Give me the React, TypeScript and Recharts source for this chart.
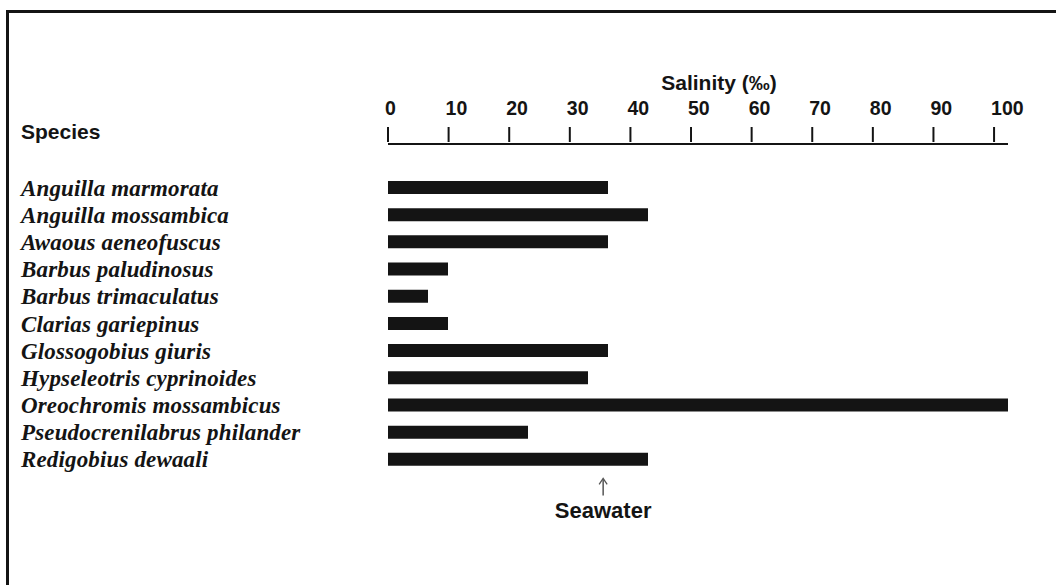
import React from "react";
import { BarChart, Bar, XAxis, YAxis, ReferenceDot } from "recharts";

const species = [
  "Anguilla marmorata",
  "Anguilla mossambica",
  "Awaous aeneofuscus",
  "Barbus paludinosus",
  "Barbus trimaculatus",
  "Clarias gariepinus",
  "Glossogobius giuris",
  "Hypseleotris cyprinoides",
  "Oreochromis mossambicus",
  "Pseudocrenilabrus philander",
  "Redigobius dewaali",
];

// upper salinity tolerance (‰)
const maxSalinity = [36.3, 42.9, 36.3, 9.9, 6.6, 9.9, 36.3, 33, 102.3, 23.1, 42.9];

const salinityTicks = [0, 10, 20, 30, 40, 50, 60, 70, 80, 90, 100];
const SEAWATER = 35.5;

const data = species.map((name, i) => ({ name, salinity: maxSalinity[i] }));

const sans = "'Liberation Sans', Arial, Helvetica, sans-serif";
const serif = "'Liberation Serif', 'Times New Roman', serif";
const ink = "#141414";

function SpeciesTick(props: any) {
  const { y, payload } = props;
  return (
    <text
      x={21}
      y={y}
      dy={8}
      textAnchor="start"
      fill={ink}
      fontFamily={serif}
      fontStyle="italic"
      fontWeight="bold"
      fontSize={23}
      letterSpacing={0.15}
    >
      {payload.value}
    </text>
  );
}

// short tick mark standing a little above the axis line; the number sits left-aligned over it
function SalinityTick(props: any) {
  const { x, payload } = props;
  return (
    <g>
      <line x1={x} x2={x} y1={127} y2={142} stroke={ink} strokeWidth={2} />
      <text
        x={x - 3}
        y={115}
        textAnchor="start"
        fill={ink}
        fontFamily={sans}
        fontWeight="bold"
        fontSize={19.5}
      >
        {payload.value}
      </text>
    </g>
  );
}

function SeawaterMark(props: any) {
  const { cx, cy } = props;
  if (cx == null || cy == null) return null;
  return (
    <g>
      <line x1={cx} x2={cx} y1={cy + 20} y2={cy + 36} stroke="#555" strokeWidth={1.5} />
      <path
        d={`M${cx - 4},${cy + 25} L${cx},${cy + 19} L${cx + 4},${cy + 25}`}
        fill="none"
        stroke="#555"
        strokeWidth={1.3}
      />
      <text
        x={cx}
        y={cy + 59}
        textAnchor="middle"
        fill={ink}
        fontFamily={sans}
        fontWeight="bold"
        fontSize={22}
      >
        Seawater
      </text>
    </g>
  );
}

export default function App() {
  return (
    <div style={{ position: "relative", width: 1056, height: 585, overflow: "hidden", background: "#fff" }}>
      <style>{"body{margin:0}"}</style>
      <div
        style={{
          position: "absolute",
          left: 6,
          top: 10,
          width: 1060,
          height: 590,
          borderLeft: `3px solid ${ink}`,
          borderTop: `3px solid ${ink}`,
        }}
      />
      <div
        style={{
          position: "absolute",
          left: 719,
          top: 71,
          transform: "translateX(-50%)",
          fontFamily: sans,
          fontWeight: "bold",
          fontSize: 21,
          color: ink,
          whiteSpace: "nowrap",
        }}
      >
        Salinity (‰)
      </div>
      <div
        style={{
          position: "absolute",
          left: 21,
          top: 120,
          fontFamily: sans,
          fontWeight: "bold",
          fontSize: 21,
          color: ink,
        }}
      >
        Species
      </div>
      <div style={{ position: "absolute", left: 0, top: 0 }}>
        <BarChart
          width={1056}
          height={585}
          data={data}
          layout="vertical"
          margin={{ top: 84, right: 48, bottom: 112, left: 0 }}
        >
          <XAxis
            type="number"
            orientation="top"
            domain={[0, 102.3]}
            ticks={salinityTicks}
            interval={0}
            height={60}
            axisLine={{ stroke: ink, strokeWidth: 2 }}
            tickLine={false}
            tick={<SalinityTick />}
          />
          <YAxis
            type="category"
            dataKey="name"
            width={388}
            axisLine={false}
            tickLine={false}
            interval={0}
            padding={{ top: 30, bottom: 0 }}
            tick={<SpeciesTick />}
          />
          <Bar dataKey="salinity" fill={ink} barSize={13} isAnimationActive={false} />
          <ReferenceDot
            x={SEAWATER}
            y={species[species.length - 1]}
            ifOverflow="visible"
            shape={<SeawaterMark />}
          />
        </BarChart>
      </div>
    </div>
  );
}
